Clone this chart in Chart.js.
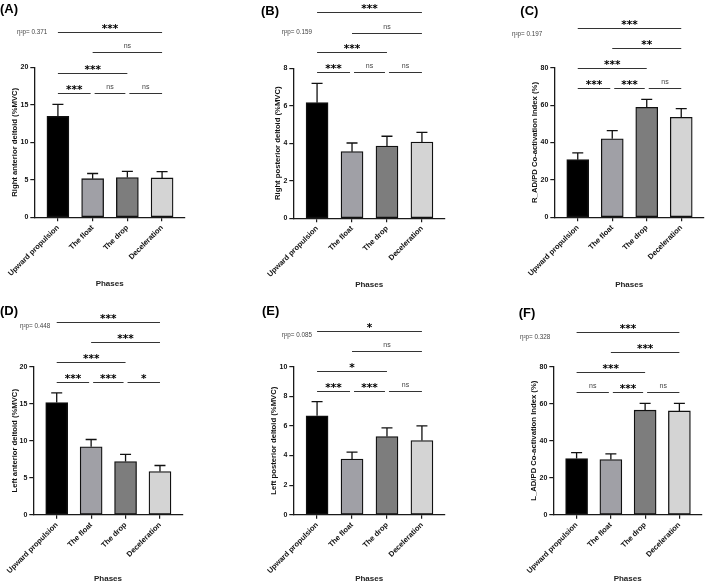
<!DOCTYPE html>
<html>
<head>
<meta charset="utf-8">
<script src="https://cdn.jsdelivr.net/npm/chart.js@4.4.1/dist/chart.umd.min.js"></script>
<style>
  body { margin: 0; background: #fff; }
  #wrap { position: relative; width: 708px; height: 584px; }
  #wrap canvas { position: absolute; }
</style>
</head>
<body>
<div id="wrap">
  <canvas id="cA" width="236" height="292" style="left:0px;top:0px"></canvas>
  <canvas id="cB" width="236" height="292" style="left:236px;top:0px"></canvas>
  <canvas id="cC" width="236" height="292" style="left:472px;top:0px"></canvas>
  <canvas id="cD" width="236" height="292" style="left:0px;top:292px"></canvas>
  <canvas id="cE" width="236" height="292" style="left:236px;top:292px"></canvas>
  <canvas id="cF" width="236" height="292" style="left:472px;top:292px"></canvas>
</div>
<script>
var phases = ["Upward propulsion", "The float", "The drop", "Deceleration"];
var barColors = ["#000000", "#a0a0a6", "#7d7d7d", "#d4d4d4"];

// means and SD per panel
var meanA = [13.45, 5.15, 5.3, 5.25];
var errA = [1.62, 0.69, 0.82, 0.85];
var meanB = [6.16, 3.55, 3.85, 4.06];
var errB = [1.03, 0.46, 0.52, 0.52];
var meanC = [30.8, 42.0, 58.8, 53.5];
var errC = [3.6, 4.3, 4.3, 4.6];
var meanD = [15.15, 9.18, 7.19, 5.84];
var errD = [1.31, 0.98, 0.95, 0.81];
var meanE = [6.68, 3.76, 5.28, 5.01];
var errE = [0.96, 0.47, 0.59, 0.99];
var meanF = [30.4, 29.8, 56.5, 56.1];
var errF = [3.2, 3.1, 3.7, 4.1];

var yTitles = ["Right anterior deltoid (%MVC)", "Right posterior deltoid (%MVC)", "R_AD/PD Co-activation Index (%)",
               "Left anterior deltoid (%MVC)", "Left posterior deltoid (%MVC)", "L_AD/PD Co-activation Index (%)"];
var yMax = [20, 8, 80, 20, 10, 80];
var yStep = [5, 2, 20, 5, 2, 20];
var letters = ["(A)", "(B)", "(C)", "(D)", "(E)", "(F)"];
var etaText = ["η²p= 0.371", "η²p= 0.159", "η²p= 0.197", "η²p= 0.448", "η²p= 0.085", "η²p= 0.328"];

// post-hoc comparisons, same pairs in every panel
var pairs = [[0, 1], [1, 2], [2, 3], [0, 2], [1, 3], [0, 3]];
var pairRow = [0, 0, 0, 1, 2, 3];
var sigA = ["***", "ns", "ns", "***", "ns", "***"];
var sigB = ["***", "ns", "ns", "***", "ns", "***"];
var sigC = ["***", "***", "ns", "***", "**", "***"];
var sigD = ["***", "***", "*", "***", "***", "***"];
var sigE = ["***", "***", "ns", "*", "ns", "*"];
var sigF = ["ns", "***", "ns", "***", "***", "***"];
// bracket heights (axis units) for each row
var rowsA = [16.6, 19.2, 22.0, 24.7];
var rowsB = [7.8, 8.85, 9.9, 11.0];
var rowsC = [69.0, 79.7, 90.7, 101.4];
var rowsD = [18.0, 20.65, 23.35, 26.1];
var rowsE = [8.38, 9.71, 11.08, 12.41];
var rowsF = [66.5, 77.1, 87.9, 98.7];

// layout per panel
var boxes = [
  {pad: {left: 9.8, top: 67.3, right: 51, bottom: 3.2}, yW: 24.5, xH: 71.5, letter: [0, 9.5], eta: [17, 32]},
  {pad: {left: 37.5, top: 68.2, right: 27, bottom: 2.9}, yW: 19.8, xH: 70.9, letter: [25, 11], eta: [45.7, 32.3]},
  {pad: {left: 58.5, top: 67.7, right: 4, bottom: 2.9}, yW: 23.8, xH: 71.8, letter: [48.3, 11], eta: [40, 34]},
  {pad: {left: 9.8, top: 74.7, right: 53.3, bottom: 0}, yW: 23.5, xH: 69.3, letter: [0, 19], eta: [20, 34.3]},
  {pad: {left: 33.5, top: 74.7, right: 27, bottom: 0}, yW: 23.8, xH: 69.3, letter: [26, 19], eta: [45.7, 43.3]},
  {pad: {left: 57.5, top: 74.7, right: 6, bottom: 0}, yW: 23.8, xH: 69.3, letter: [46.7, 21], eta: [48, 45.7]}
];

var axisColor = "#1a1a1a";
var mainFont = "'Liberation Sans', Arial, sans-serif";

var errorBars = {
  id: "errorBars",
  afterDatasetsDraw: function(chart, args, opts) {
    var ctx = chart.ctx;
    var ys = chart.scales.y;
    var bars = chart.getDatasetMeta(0).data;
    ctx.save();
    ctx.strokeStyle = "#111";
    ctx.lineWidth = 1.3;
    for (var i = 0; i < bars.length; i++) {
      var x = bars[i].x;
      var top = ys.getPixelForValue(opts.means[i] + opts.errs[i]);
      ctx.beginPath();
      ctx.moveTo(x, bars[i].y);
      ctx.lineTo(x, top);
      ctx.moveTo(x - 5.5, top);
      ctx.lineTo(x + 5.5, top);
      ctx.stroke();
    }
    ctx.restore();
  }
};

var brackets = {
  id: "brackets",
  afterDraw: function(chart, args, opts) {
    var ctx = chart.ctx;
    var xs = chart.scales.x;
    var ys = chart.scales.y;
    ctx.save();
    for (var k = 0; k < pairs.length; k++) {
      var a = pairs[k][0], b = pairs[k][1];
      var x1 = xs.getPixelForValue(a);
      var x2 = xs.getPixelForValue(b);
      if (b - a == 1) {
        if (a > 0) x1 += 2;
        if (b < 3) x2 -= 2;
      }
      var y = Math.round(ys.getPixelForValue(opts.rows[pairRow[k]])) + 0.5;
      ctx.strokeStyle = "#333";
      ctx.lineWidth = 1;
      ctx.beginPath();
      ctx.moveTo(x1, y);
      ctx.lineTo(x2, y);
      ctx.stroke();
      var s = opts.labels[k];
      ctx.textAlign = "center";
      ctx.textBaseline = "alphabetic";
      if (s == "ns") {
        ctx.fillStyle = "#444";
        ctx.font = "7px " + mainFont;
        ctx.fillText(s, (x1 + x2) / 2, y - 4.5);
      } else {
        ctx.fillStyle = "#000";
        ctx.font = "bold 10.5px 'DejaVu Sans'";
        ctx.fillText(s, (x1 + x2) / 2, y - 0.5);
      }
    }
    // panel letter and effect size
    ctx.textAlign = "left";
    ctx.textBaseline = "middle";
    ctx.fillStyle = "#000";
    ctx.font = "bold 13px " + mainFont;
    ctx.fillText(opts.letter, opts.letterPos[0], opts.letterPos[1]);
    ctx.fillStyle = "#444";
    ctx.font = "6.3px " + mainFont;
    ctx.fillText(opts.eta, opts.etaPos[0], opts.etaPos[1]);
    ctx.restore();
  }
};

function drawPanel(id, n, means, errs, sig, rows) {
  var box = boxes[n];
  var ctx = document.getElementById(id).getContext("2d");
  return new Chart(ctx, {
    type: "bar",
    data: {
      datasets: [{
        data: means.map(function(v, i) { return {x: i, y: v}; }),
        backgroundColor: barColors,
        borderColor: "#111",
        borderWidth: 1.3,
        borderSkipped: false,
        barThickness: 22
      }]
    },
    options: {
      responsive: false,
      animation: false,
      devicePixelRatio: 1,
      layout: {padding: box.pad},
      plugins: {
        legend: {display: false},
        tooltip: {enabled: false},
        errorBars: {means: means, errs: errs},
        brackets: {labels: sig, rows: rows, letter: letters[n], letterPos: box.letter, eta: etaText[n], etaPos: box.eta}
      },
      scales: {
        x: {
          type: "linear",
          offset: false,
          min: -0.68,
          max: 3.66,
          afterBuildTicks: function(scale) {
            scale.ticks = phases.map(function(p, i) { return {value: i}; });
          },
          afterFit: function(scale) { scale.height = box.xH; },
          grid: {offset: false, drawOnChartArea: false, tickLength: 4, color: axisColor, lineWidth: 1.2},
          border: {color: axisColor, width: 1.3},
          ticks: {
            autoSkip: false,
            minRotation: 45,
            maxRotation: 45,
            padding: 2,
            color: "#111",
            font: {family: mainFont, size: 7.5, weight: "bold"},
            callback: function(v) { return phases[v]; }
          },
          title: {display: true, text: "Phases", color: "#222", padding: 0,
                  font: {family: mainFont, size: 8, weight: "bold"}}
        },
        y: {
          min: 0,
          max: yMax[n],
          afterFit: function(scale) { scale.width = box.yW; },
          grid: {drawOnChartArea: false, tickLength: 4, color: axisColor, lineWidth: 1.2},
          border: {color: axisColor, width: 1.3},
          ticks: {
            stepSize: yStep[n],
            padding: 2,
            color: "#111",
            font: {family: mainFont, size: 7, weight: "bold"}
          },
          title: {display: true, text: yTitles[n], color: "#111", padding: 0,
                  font: {family: mainFont, size: 7.7, weight: "bold"}}
        }
      }
    },
    plugins: [errorBars, brackets]
  });
}

drawPanel("cA", 0, meanA, errA, sigA, rowsA);
drawPanel("cB", 1, meanB, errB, sigB, rowsB);
drawPanel("cC", 2, meanC, errC, sigC, rowsC);
drawPanel("cD", 3, meanD, errD, sigD, rowsD);
drawPanel("cE", 4, meanE, errE, sigE, rowsE);
drawPanel("cF", 5, meanF, errF, sigF, rowsF);
</script>
</body>
</html>
